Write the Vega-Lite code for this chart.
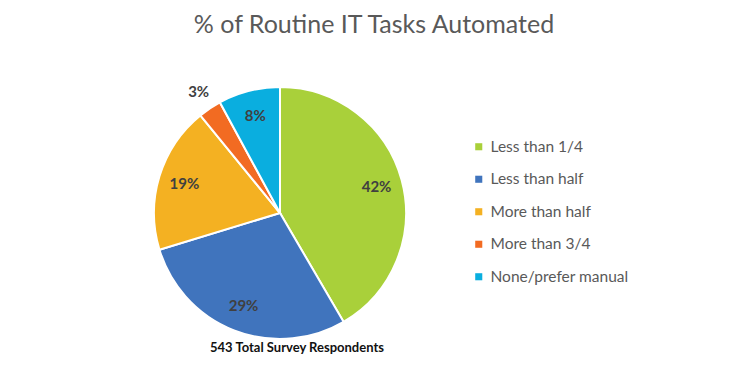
{
  "$schema": "https://vega.github.io/schema/vega-lite/v6.json",
  "autosize": "none",
  "width": 252,
  "height": 252,
  "padding": {"left": 154, "top": 87, "right": 344, "bottom": 36},
  "background": "white",
  "title": {"text": "% of Routine IT Tasks Automated", "font": "Lato", "fontSize": 25, "fontWeight": "normal", "color": "#595959", "anchor": "middle", "offset": 26, "dx": 94},
  "config": {"view": {"stroke": null}},
  "layer": [
    {
      "data": {"values": [
        {"category": "Less than 1/4", "pct": 42, "label": "42%", "rank": 1},
        {"category": "Less than half", "pct": 29, "label": "29%", "rank": 2},
        {"category": "More than half", "pct": 19, "label": "19%", "rank": 3},
        {"category": "More than 3/4", "pct": 3, "label": "3%", "rank": 4},
        {"category": "None/prefer manual", "pct": 8, "label": "8%", "rank": 5}
      ]},
      "layer": [
        {
          "mark": {"type": "arc", "stroke": "white", "strokeWidth": 2},
          "encoding": {
            "theta": {"field": "pct", "type": "quantitative", "stack": true},
            "order": {"field": "rank", "type": "quantitative"},
            "color": {
              "field": "category", "type": "nominal",
              "sort": ["Less than 1/4", "Less than half", "More than half", "More than 3/4", "None/prefer manual"],
              "scale": {"domain": ["Less than 1/4", "Less than half", "More than half", "More than 3/4", "None/prefer manual"], "range": ["#A9D03A", "#4074BD", "#F4B122", "#F26B22", "#0AAEDF"]},
              "legend": {"title": null, "orient": "none", "legendX": 317, "legendY": 52, "symbolType": "square", "symbolSize": 50, "symbolStrokeWidth": 0, "labelFont": "Lato", "labelFontSize": 15.5, "labelColor": "#595959", "rowPadding": 15.5, "labelOffset": 4}
            }
          }
        },
        {
          "mark": {"type": "text", "radius": 100, "font": "Lato", "fontSize": 15, "fontWeight": "bold", "color": "#404040"},
          "encoding": {
            "theta": {"field": "pct", "type": "quantitative", "stack": true},
            "order": {"field": "rank", "type": "quantitative"},
            "text": {"condition": {"test": "datum.pct >= 5", "field": "label"}, "value": ""}
          }
        },
        {
          "mark": {"type": "text", "radius": 146, "font": "Lato", "fontSize": 15, "fontWeight": "bold", "color": "#404040"},
          "encoding": {
            "theta": {"field": "pct", "type": "quantitative", "stack": true},
            "order": {"field": "rank", "type": "quantitative"},
            "text": {"condition": {"test": "datum.pct < 5", "field": "label"}, "value": ""}
          }
        }
      ]
    },
    {
      "data": {"values": [{"note": "543 Total Survey Respondents"}]},
      "mark": {"type": "text", "dx": 17, "dy": 135, "font": "Lato", "fontSize": 13, "fontWeight": "bold", "color": "#111111"},
      "encoding": {"text": {"field": "note"}}
    }
  ]
}
